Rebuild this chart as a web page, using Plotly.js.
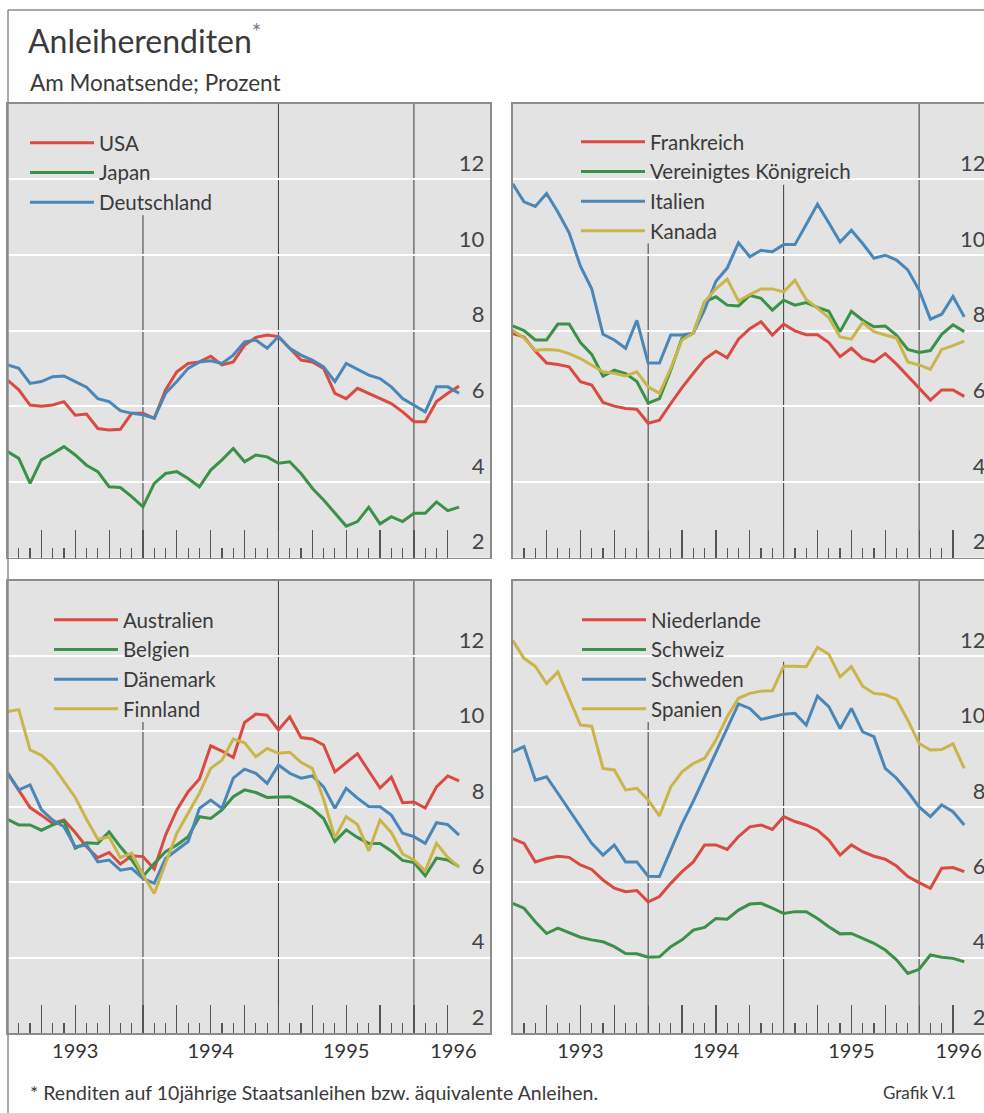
<!DOCTYPE html>
<html>
<head>
<meta charset="utf-8">
<script src="https://cdn.plot.ly/plotly-3.0.1.min.js"></script>
<style>
  html, body { margin: 0; padding: 0; overflow: hidden; background: #ffffff; }
  #chart { width: 1000px; height: 1113px; }
</style>
</head>
<body>
<div id="chart"></div>
<script>
// ---------- data: month-end bond yields, Dec 1992 .. Apr 1996 (percent) ----------
const monthLabels = [];
for (let i = 0; i <= 40; i++) {
  const mm = (11 + i) % 12 + 1;
  const yy = 1992 + Math.floor((11 + i) / 12);
  monthLabels.push(yy + '-' + String(mm).padStart(2, '0'));
}
const yearLabels = ['1993', '1994', '1995', '1996'];
const yearLabelPos = [6, 18, 30, 39.5];   // months after end-1992
const yearBoundaries = [12, 24, 36];
const yTicks = [2, 4, 6, 8, 10, 12];

// Panel 1
const usa = [6.69,6.43,6.03,6.0,6.03,6.12,5.76,5.79,5.41,5.37,5.39,5.81,5.81,5.68,6.43,6.91,7.13,7.17,7.32,7.09,7.17,7.61,7.82,7.88,7.84,7.53,7.22,7.17,7.0,6.34,6.2,6.47,6.34,6.2,6.07,5.85,5.59,5.59,6.12,6.34,6.53];
const japan = [4.8,4.62,3.96,4.58,4.75,4.93,4.71,4.44,4.27,3.87,3.85,3.61,3.34,3.96,4.22,4.27,4.09,3.87,4.31,4.58,4.88,4.53,4.71,4.66,4.49,4.53,4.22,3.83,3.52,3.17,2.83,2.95,3.33,2.89,3.08,2.95,3.17,3.17,3.47,3.24,3.33];
const deutschland = [7.09,7.0,6.6,6.65,6.78,6.8,6.65,6.5,6.2,6.12,5.88,5.81,5.77,5.68,6.34,6.65,7.0,7.17,7.2,7.13,7.35,7.7,7.75,7.53,7.84,7.53,7.35,7.22,7.04,6.65,7.13,6.97,6.82,6.73,6.51,6.2,6.03,5.85,6.51,6.51,6.34];
// Panel 2
const frankreich = [7.92,7.83,7.46,7.14,7.1,7.04,6.65,6.56,6.1,6.0,5.94,5.92,5.55,5.63,6.07,6.49,6.87,7.24,7.45,7.28,7.77,8.05,8.23,7.88,8.17,7.99,7.89,7.89,7.68,7.31,7.53,7.26,7.17,7.39,7.11,6.8,6.49,6.16,6.43,6.43,6.26];
const vereinigtesKoenigreich = [8.12,8.0,7.75,7.75,8.17,8.17,7.68,7.37,6.79,6.95,6.86,6.65,6.08,6.2,6.95,7.8,7.93,8.76,8.89,8.67,8.65,8.93,8.85,8.54,8.8,8.67,8.74,8.61,8.51,7.97,8.51,8.27,8.1,8.12,7.87,7.5,7.42,7.47,7.9,8.15,7.97];
const italien = [11.88,11.4,11.28,11.62,11.13,10.58,9.7,9.1,7.9,7.75,7.53,8.27,7.14,7.14,7.88,7.88,7.93,8.55,9.3,9.65,10.32,9.95,10.12,10.08,10.27,10.27,10.8,11.34,10.85,10.34,10.65,10.3,9.91,9.99,9.86,9.6,9.07,8.3,8.43,8.9,8.36];
const kanada = [8.01,7.8,7.48,7.5,7.48,7.39,7.26,7.09,6.91,6.87,6.8,6.91,6.51,6.34,7.0,7.75,7.93,8.76,9.1,9.36,8.78,8.95,9.1,9.1,9.02,9.33,8.82,8.59,8.34,7.83,7.77,8.21,7.97,7.88,7.8,7.17,7.09,6.97,7.5,7.6,7.72];
// Panel 3
const australien = [8.9,8.45,7.98,7.78,7.56,7.65,7.32,6.94,6.65,6.79,6.48,6.7,6.68,6.35,7.25,7.92,8.4,8.74,9.62,9.48,9.31,10.24,10.46,10.43,10.04,10.39,9.84,9.8,9.64,8.93,9.17,9.41,8.95,8.5,8.79,8.11,8.13,7.97,8.53,8.82,8.69];
const belgien = [7.67,7.52,7.52,7.38,7.52,7.62,6.9,7.05,7.03,7.34,6.94,6.59,6.15,6.5,6.81,6.99,7.21,7.74,7.69,7.92,8.27,8.45,8.38,8.25,8.26,8.27,8.12,7.95,7.69,7.08,7.39,7.19,7.03,7.03,6.83,6.58,6.52,6.17,6.64,6.59,6.41];
const daenemark = [8.9,8.45,8.58,7.93,7.65,7.47,6.94,6.99,6.54,6.59,6.32,6.37,6.1,5.97,6.63,6.85,7.08,7.96,8.18,7.96,8.76,9.0,8.89,8.62,9.11,8.89,8.76,8.82,8.53,7.96,8.49,8.23,8.01,8.0,7.78,7.3,7.21,7.03,7.58,7.53,7.25];
const finnland = [10.53,10.58,9.51,9.37,9.1,8.69,8.25,7.67,7.14,7.2,6.65,6.77,6.2,5.7,6.5,7.3,7.83,8.36,9.02,9.24,9.8,9.7,9.33,9.55,9.42,9.45,9.18,9.02,8.2,7.18,7.74,7.53,6.83,7.65,7.32,6.75,6.59,6.3,7.03,6.66,6.41];
// Panel 4
const niederlande = [7.16,7.03,6.54,6.63,6.69,6.66,6.46,6.34,6.06,5.84,5.75,5.78,5.48,5.62,5.97,6.28,6.54,6.99,6.99,6.87,7.21,7.47,7.52,7.4,7.74,7.61,7.52,7.38,7.12,6.72,6.99,6.81,6.69,6.61,6.43,6.15,5.99,5.84,6.37,6.39,6.28];
const schweiz = [5.44,5.31,4.95,4.64,4.78,4.66,4.54,4.47,4.42,4.29,4.11,4.1,4.01,4.02,4.29,4.47,4.73,4.8,5.04,5.02,5.26,5.42,5.44,5.31,5.17,5.22,5.22,5.04,4.82,4.63,4.64,4.51,4.38,4.2,3.94,3.58,3.69,4.07,4.01,3.98,3.89];
const schweden = [9.46,9.6,8.71,8.8,8.36,7.92,7.47,7.03,6.72,6.99,6.54,6.54,6.16,6.15,6.85,7.55,8.15,8.8,9.43,10.08,10.73,10.61,10.32,10.39,10.46,10.48,10.17,10.94,10.66,10.08,10.61,9.99,9.86,9.02,8.76,8.4,8.0,7.74,8.05,7.87,7.52];
const spanien = [12.42,11.94,11.73,11.27,11.58,10.88,10.17,10.14,9.02,8.98,8.45,8.49,8.18,7.76,8.53,8.93,9.15,9.29,9.77,10.39,10.88,11.01,11.07,11.08,11.73,11.73,11.72,12.23,12.05,11.45,11.72,11.2,11.01,10.98,10.85,10.3,9.68,9.51,9.52,9.67,9.02];

// ---------- styling ----------
const W = 1000, H = 1113;
const FONT = 'Lato, "Open Sans", "DejaVu Sans", sans-serif';
const RED = '#d94a40', GREEN = '#3a9147', BLUE = '#4a87b9', YELLOW = '#c9b54a';
const GRID = '#ffffff', BG = '#e3e3e3', FRAME = '#8c8c8c', TICK = '#555555';
const monthIdx = monthLabels.map((_, i) => i);
const xRange = [0, 42.74];
const yRange = [2, 14];

const panels = [
  { xa: 'x',  ya: 'y',  leg: 'legend',  series: [['USA', usa, RED], ['Japan', japan, GREEN], ['Deutschland', deutschland, BLUE]] },
  { xa: 'x2', ya: 'y2', leg: 'legend2', series: [['Frankreich', frankreich, RED], ['Vereinigtes Königreich', vereinigtesKoenigreich, GREEN], ['Italien', italien, BLUE], ['Kanada', kanada, YELLOW]] },
  { xa: 'x3', ya: 'y3', leg: 'legend3', series: [['Australien', australien, RED], ['Belgien', belgien, GREEN], ['Dänemark', daenemark, BLUE], ['Finnland', finnland, YELLOW]] },
  { xa: 'x4', ya: 'y4', leg: 'legend4', series: [['Niederlande', niederlande, RED], ['Schweiz', schweiz, GREEN], ['Schweden', schweden, BLUE], ['Spanien', spanien, YELLOW]] }
];

const traces = [];
panels.forEach(p => {
  p.series.forEach(([name, vals, color]) => {
    traces.push({
      type: 'scatter', mode: 'lines', name: name, x: monthIdx, y: vals,
      xaxis: p.xa, yaxis: p.ya, legend: p.leg,
      line: { color: color, width: 3 }, hoverinfo: 'skip'
    });
  });
});
// empty helper traces so that the year-label axes of the lower panels are drawn
[['x5', 'y3'], ['x6', 'y4']].forEach(([xa, ya]) => {
  traces.push({ type: 'scatter', mode: 'lines', x: yearLabelPos, y: yearLabelPos.map(() => null),
    xaxis: xa, yaxis: ya, showlegend: false, hoverinfo: 'skip', line: { width: 0 } });
});

function xAxis(domain, anchor) {
  return {
    domain: domain, anchor: anchor, range: xRange, fixedrange: true,
    tickmode: 'linear', tick0: 0, dtick: 3, ticks: 'inside', ticklen: 28, tickwidth: 1.2, tickcolor: TICK,
    minor: { tickmode: 'linear', tick0: 0, dtick: 1, ticks: 'inside', ticklen: 10, tickwidth: 1.2, tickcolor: TICK, showgrid: false },
    showticklabels: false, showgrid: false, zeroline: false,
    showline: true, mirror: true, linecolor: FRAME, linewidth: 1.5
  };
}
function yAxis(domain, anchor, standoff) {
  return {
    domain: domain, anchor: anchor, range: yRange, fixedrange: true, side: 'right',
    tickmode: 'array', tickvals: yTicks, ticktext: yTicks.map(String), ticks: '',
    ticklabelposition: 'inside', ticklabelshift: -16, ticklabelstandoff: standoff,
    tickfont: { family: FONT, size: 22, color: '#444444' },
    showgrid: true, gridcolor: GRID, gridwidth: 2, zeroline: false,
    showline: true, mirror: true, linecolor: FRAME, linewidth: 1.5
  };
}
function yearAxis(over, anchor) {
  return {
    overlaying: over, anchor: anchor, range: xRange, fixedrange: true, side: 'bottom',
    tickmode: 'array', tickvals: yearLabelPos, ticktext: yearLabels, ticks: '',
    ticklabelstandoff: 4,
    tickfont: { family: FONT, size: 20, color: '#333333' },
    showline: false, showgrid: false, zeroline: false
  };
}
function legendAt(xpx, ypx) {
  return {
    x: xpx / W, y: 1 - ypx / H, xanchor: 'left', yanchor: 'top',
    bgcolor: 'rgba(0,0,0,0)', borderwidth: 0, itemwidth: 64, traceorder: 'normal',
    font: { family: FONT, size: 20.5, color: '#3a3a3a' }
  };
}

const leftDom = [7.5 / W, 490 / W];
const rightDom = [512.7 / W, 995.2 / W];
const topDom = [(H - 557.5) / H, (H - 103.5) / H];
const botDom = [(H - 1033) / H, (H - 580.7) / H];

// year separator lines; upper ends (in yield units) where the legend text interrupts them
const yearLineTops = {
  x:  [11.05, 14, 14],
  x2: [10.3, 11.85, 14],
  x3: [10.25, 14, 14],
  x4: [10.25, 11.85, 14]
};
const shapes = [];
panels.forEach(p => {
  yearBoundaries.forEach((b, i) => {
    shapes.push({
      type: 'line', layer: 'below', xref: p.xa, yref: p.ya,
      x0: b, x1: b, y0: yRange[0], y1: yearLineTops[p.xa][i],
      line: { color: '#3a3a3a', width: 1 }
    });
  });
});
// outer frame
shapes.push({ type: 'line', xref: 'paper', yref: 'paper', x0: 8 / W, x1: 8 / W, y0: 0, y1: 1 - 10 / H, line: { color: FRAME, width: 1.5 } });
shapes.push({ type: 'line', xref: 'paper', yref: 'paper', x0: 8 / W, x1: 1, y0: 1 - 10 / H, y1: 1 - 10 / H, line: { color: FRAME, width: 1.5 } });

const layout = {
  width: W, height: H, autosize: false,
  margin: { l: 0, r: 0, t: 0, b: 0 },
  paper_bgcolor: '#ffffff', plot_bgcolor: BG,
  font: { family: FONT, color: '#333333' },
  title: {
    text: 'Anleiherenditen<sup><span style="color:#7a7a7a">*</span></sup>', xref: 'paper', yref: 'paper',
    x: 28 / W, xanchor: 'left', y: 1 - 42 / H, yanchor: 'middle',
    font: { family: FONT, size: 32, color: '#3a3a3a' }
  },
  xaxis: xAxis(leftDom, 'y'), yaxis: yAxis(topDom, 'x', 7),
  xaxis2: xAxis(rightDom, 'y2'), yaxis2: yAxis(topDom, 'x2', 11),
  xaxis3: xAxis(leftDom, 'y3'), yaxis3: yAxis(botDom, 'x3', 7),
  xaxis4: xAxis(rightDom, 'y4'), yaxis4: yAxis(botDom, 'x4', 11),
  xaxis5: yearAxis('x3', 'y3'),
  xaxis6: yearAxis('x4', 'y4'),
  legend: legendAt(25, 123),
  legend2: legendAt(576, 122),
  legend3: legendAt(49, 600),
  legend4: legendAt(577, 600),
  shapes: shapes,
  annotations: [
    { text: 'Am Monatsende; Prozent', xref: 'paper', yref: 'paper', x: 28 / W, y: 1 - 83 / H,
      xanchor: 'left', yanchor: 'middle', showarrow: false, font: { family: FONT, size: 22.5, color: '#3a3a3a' } },
    { text: '* Renditen auf 10jährige Staatsanleihen bzw. äquivalente Anleihen.', xref: 'paper', yref: 'paper',
      x: 28 / W, y: 1 - 1092 / H, xanchor: 'left', yanchor: 'middle', showarrow: false,
      font: { family: FONT, size: 19.5, color: '#3a3a3a' } },
    { text: 'Grafik V.1', xref: 'paper', yref: 'paper', x: 958 / W, y: 1 - 1092 / H,
      xanchor: 'right', yanchor: 'middle', showarrow: false, font: { family: FONT, size: 17, color: '#3a3a3a' } }
  ],
  showlegend: true
};

Plotly.newPlot('chart', traces, layout, { staticPlot: true, displayModeBar: false });
</script>
</body>
</html>
